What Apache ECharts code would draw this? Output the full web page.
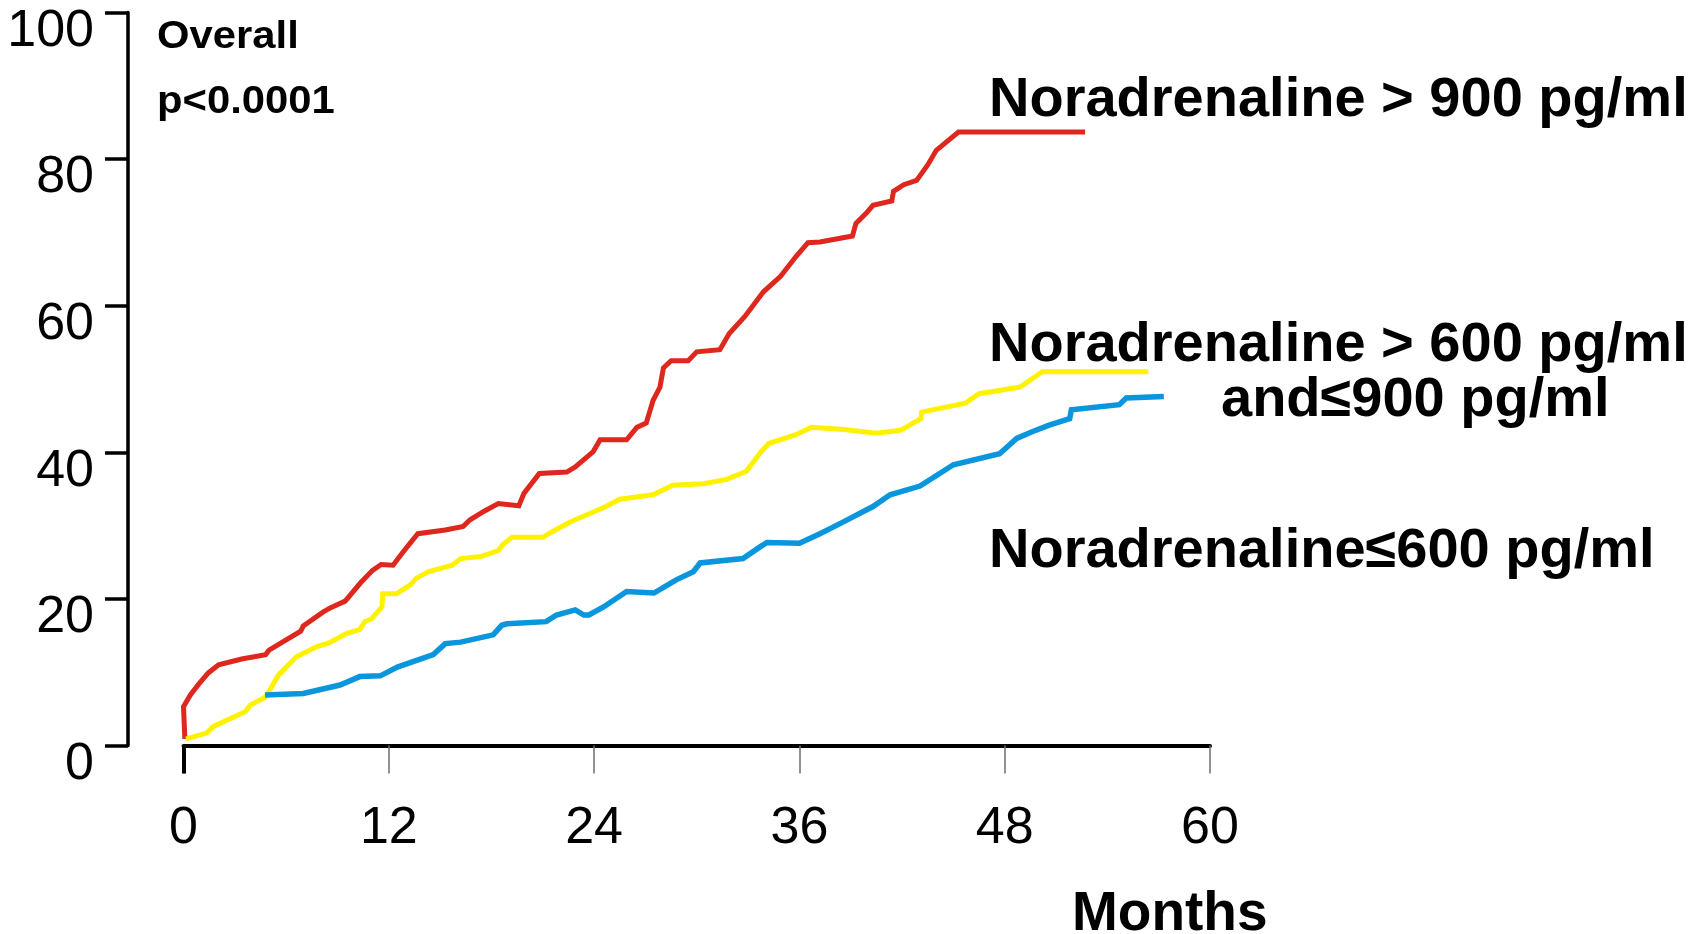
<!DOCTYPE html>
<html>
<head>
<meta charset="utf-8">
<title>Noradrenaline – cumulative events</title>
<script src="https://cdn.jsdelivr.net/npm/echarts@6/dist/echarts.min.js"></script>
<style>
  html, body { margin: 0; padding: 0; background: #fff; }
  #chart { width: 1698px; height: 934px; }
</style>
</head>
<body>
<div id="chart"></div>
<script>
// Months on the x axis, percent of patients with an event on the y axis.
const monthTicks = [0, 12, 24, 36, 48, 60];
const percentTicks = [0, 20, 40, 60, 80, 100];

// Noradrenaline > 900 pg/ml  [month, %]
const highNA = [
  [0.08, 0.9], [0.0, 5.3], [0.4, 6.9], [0.9, 8.4], [1.45, 9.9], [2.05, 11.0],
  [3.4, 11.8], [4.8, 12.4], [5.0, 13.0], [6.85, 15.6], [7.0, 16.3], [8.15, 18.2],
  [8.6, 18.8], [9.45, 19.7], [10.35, 22.2], [11.05, 23.9], [11.55, 24.7], [12.25, 24.6],
  [12.8, 26.3], [13.25, 27.6], [13.7, 28.9], [15.3, 29.4], [16.35, 29.9], [16.75, 30.8],
  [17.6, 32.0], [18.4, 33.0], [19.6, 32.7], [19.9, 34.4], [20.8, 37.1], [22.4, 37.3],
  [22.9, 38.0], [23.95, 40.1], [24.35, 41.7], [25.9, 41.7], [26.5, 43.4], [27.05, 44.0],
  [27.45, 47.1], [27.85, 48.9], [28.05, 51.5], [28.5, 52.5], [29.5, 52.5], [30.0, 53.7],
  [31.35, 54.0], [31.9, 56.2], [32.8, 58.5], [33.9, 61.9], [34.9, 64.0], [35.8, 66.7],
  [36.5, 68.6], [37.2, 68.7], [39.1, 69.5], [39.3, 71.2], [39.9, 72.6], [40.3, 73.7],
  [41.4, 74.3], [41.5, 75.6], [42.1, 76.5], [42.85, 77.1], [43.5, 79.2], [44.0, 81.2],
  [45.3, 83.7], [52.7, 83.7]
];

// Noradrenaline > 600 and <= 900 pg/ml
const midNA = [
  [0.15, 0.9], [1.35, 1.7], [1.75, 2.6], [3.6, 4.6], [3.9, 5.5], [4.77, 6.6],
  [5.06, 7.6], [5.55, 9.6], [6.6, 12.1], [7.8, 13.5], [8.5, 14.0], [9.55, 15.3],
  [10.3, 15.8], [10.6, 16.9], [11.0, 17.3], [11.6, 18.9], [11.65, 20.7], [12.45, 20.7],
  [13.25, 21.9], [13.6, 22.8], [14.3, 23.7], [15.7, 24.6], [16.2, 25.5], [17.4, 25.8],
  [18.4, 26.6], [18.7, 27.5], [19.2, 28.4], [21.0, 28.4], [21.5, 29.1], [22.6, 30.5],
  [24.6, 32.5], [25.5, 33.6], [27.45, 34.2], [28.6, 35.5], [30.4, 35.7], [31.75, 36.3],
  [32.9, 37.4], [33.7, 39.9], [34.2, 41.2], [35.8, 42.4], [36.7, 43.4], [38.6, 43.1],
  [40.5, 42.6], [41.9, 43.0], [43.1, 44.6], [43.15, 45.5], [45.7, 46.7], [46.5, 48.0],
  [48.9, 48.9], [50.2, 51.0], [56.4, 51.0]
];

// Noradrenaline <= 600 pg/ml
const lowNA = [
  [4.77, 6.9], [7.0, 7.1], [9.15, 8.25], [10.3, 9.4], [11.5, 9.5], [12.5, 10.7],
  [14.6, 12.4], [15.3, 13.9], [16.2, 14.1], [18.1, 15.1], [18.6, 16.4], [18.9, 16.6],
  [21.2, 16.9], [21.8, 17.8], [22.9, 18.5], [23.4, 17.8], [23.7, 17.8], [24.55, 18.9],
  [25.9, 21.0], [27.5, 20.8], [28.8, 22.6], [29.8, 23.7], [30.2, 24.9], [32.7, 25.5],
  [33.7, 27.1], [34.1, 27.7], [36.0, 27.6], [37.2, 28.9], [38.4, 30.3], [40.3, 32.6],
  [41.3, 34.2], [43.05, 35.4], [45.0, 38.3], [47.7, 39.8], [48.7, 41.9], [49.6, 42.8],
  [50.6, 43.7], [51.8, 44.6], [51.9, 45.8], [54.7, 46.5], [55.1, 47.4], [57.3, 47.6]
];

const seriesNames = [
  'Noradrenaline > 900 pg/ml',
  'Noradrenaline > 600 pg/ml and\u2264900 pg/ml',
  'Noradrenaline\u2264600 pg/ml'
];
const seriesColors = ['#de281d', '#fff200', '#0996dc'];
const seriesWidths = [5, 5, 5.5];

const chart = echarts.init(document.getElementById('chart'), null, { renderer: 'canvas' });

const font = '"Liberation Sans", Arial, Helvetica, sans-serif';
const xMin = monthTicks[0], xMax = monthTicks[monthTicks.length - 1];
const xStep = monthTicks[1] - monthTicks[0];
const yMin = percentTicks[0], yMax = percentTicks[percentTicks.length - 1];
const yStep = percentTicks[1] - percentTicks[0];

function boldText(x, y, text, size, scaleX) {
  return {
    type: 'text', x: x, y: y, scaleX: scaleX || 1,
    style: {
      text: text, x: 0, y: 0, fill: '#000',
      fontFamily: font, fontWeight: 'bold', fontSize: size,
      align: 'left', verticalAlign: 'middle'
    },
    silent: true
  };
}

chart.setOption({
  animation: false,
  backgroundColor: '#fff',
  grid: {
    left: 183.5, top: 12.5, right: 488, bottom: 188.5,
    containLabel: false, outerBoundsMode: 'none'
  },
  xAxis: [
    {
      type: 'value', position: 'bottom', min: xMin, max: xMax, interval: xStep,
      splitLine: { show: false },
      axisLine: { show: true, onZero: false, lineStyle: { color: '#000', width: 4 } },
      axisTick: { show: true, length: 28, lineStyle: { color: '#6f6f6f', width: 1.5 } },
      axisLabel: { show: true, color: '#000', fontFamily: font, fontSize: 52, margin: 57 }
    },
    {
      // heavier origin tick
      type: 'value', position: 'bottom', offset: 0, min: xMin, max: xMax, interval: xStep,
      splitLine: { show: false },
      axisLine: { show: false, onZero: false },
      axisTick: { show: true, length: 28, customValues: [xMin], lineStyle: { color: '#000', width: 4 } },
      axisLabel: { show: false }
    }
  ],
  yAxis: {
    type: 'value', min: yMin, max: yMax, interval: yStep, offset: 55.5,
    splitLine: { show: false },
    axisLine: { show: true, onZero: false, lineStyle: { color: '#000', width: 3.5 } },
    axisTick: { show: true, length: 23, lineStyle: { color: '#000', width: 3.5 } },
    axisLabel: {
      show: true, color: '#000', fontFamily: font, fontSize: 52, margin: 34,
      verticalAlign: 'top', lineHeight: 38
    }
  },
  series: [highNA, midNA, lowNA].map((data, i) => ({
    name: seriesNames[i],
    type: 'line',
    xAxisIndex: 0,
    data: data,
    showSymbol: false,
    symbol: 'none',
    smooth: false,
    lineStyle: { color: seriesColors[i], width: seriesWidths[i], cap: 'butt', join: 'miter' },
    z: 3 + i
  })),
  graphic: [
    boldText(157, 38, 'Overall', 38, 1.1),
    boldText(157, 103, 'p<0.0001', 38, 1.1),
    boldText(989, 101, 'Noradrenaline > 900 pg/ml', 56),
    boldText(989, 346, 'Noradrenaline > 600 pg/ml', 56),
    boldText(1221, 401, 'and\u2264900 pg/ml', 56),
    boldText(989, 552, 'Noradrenaline\u2264600 pg/ml', 56),
    boldText(1072, 915, 'Months', 55)
  ]
});
</script>
</body>
</html>
